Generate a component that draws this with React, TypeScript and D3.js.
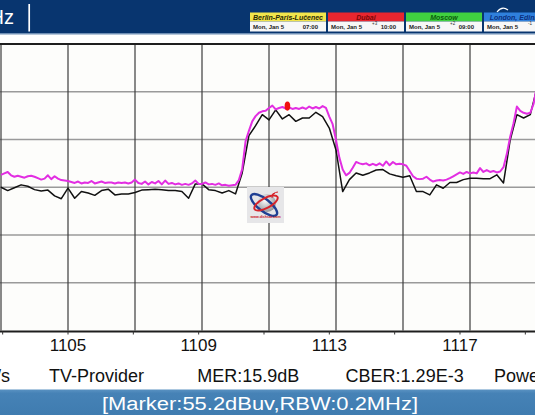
import React from 'react';
import * as d3 from 'd3';

const FREQ_START = 1103;
const FREQ_END = 1119;
const MAX_HOLD_STEP = 0.1;
const LIVE_STEP = 0.2;
const LEVEL_MIN = 10;
const LEVEL_MAX = 70;

// Max-hold trace (magenta), dBuV every 0.1 MHz from 1103 MHz
const maxHold = [
  42.6, 42.9, 43.2, 42.5, 42.2, 42.4, 42.2, 42.0, 42.3, 42.4,
  42.2, 41.9, 41.6, 41.8, 42.5, 41.7, 42.3, 41.8, 41.5, 41.4,
  41.3, 41.1, 40.9, 41.2, 40.8, 41.0, 40.9, 41.3, 40.8, 41.0,
  41.2, 40.9, 41.0, 41.0, 40.8, 41.0, 40.9, 41.0, 40.8, 41.0,
  41.6, 40.9, 40.7, 41.2, 40.6, 41.1, 40.8, 41.3, 40.6, 41.4,
  40.7, 40.9, 40.6, 40.8, 40.5, 40.7, 40.5, 40.8, 41.4, 40.7,
  40.7, 41.0, 40.6, 40.7, 40.5, 40.8, 40.4, 40.5, 40.3, 40.4,
  40.5, 41.5, 43.8, 49.6, 51.8, 53.8, 54.9, 55.6, 55.9, 56.0,
  56.6, 57.1, 56.3, 56.6, 56.8, 56.5, 56.7, 56.4, 56.6, 56.4,
  56.7, 56.4, 56.9, 56.5, 56.8, 56.5, 57.0, 56.6, 54.8, 53.2,
  49.9, 46.2, 43.7, 42.5, 43.0, 44.1, 45.3, 45.0, 44.8, 45.0,
  44.6, 44.9, 44.6, 45.0, 44.5, 45.4, 44.6, 45.3, 44.8, 44.9,
  44.8, 44.5, 43.4, 42.3, 41.8, 41.7, 41.8, 42.2, 41.6, 41.2,
  41.4, 41.5, 41.4, 41.6, 41.9, 42.3, 42.7, 43.1, 42.8, 43.2,
  42.9, 43.1, 42.9, 44.0, 43.2, 43.6, 43.2, 43.4, 43.1, 43.3,
  44.2, 47.0, 50.6, 53.4, 56.9, 56.0, 55.6, 55.4, 55.6, 57.5, 61.4,
];

// Live trace (black), dBuV every 0.2 MHz from 1103 MHz
const live = [
  40.0, 39.3, 39.9, 40.5, 40.2, 39.5, 39.2, 39.4, 38.2, 37.6,
  39.8, 37.7, 39.1, 38.8, 38.3, 39.3, 39.6, 38.4, 38.6, 38.6,
  38.9, 39.4, 39.5, 39.6, 39.5, 39.3, 39.3, 39.1, 37.7, 40.7,
  40.7, 39.5, 39.3, 38.8, 39.3, 38.6, 43.0, 50.8, 52.9, 55.2,
  54.1, 56.2, 54.3, 55.2, 53.8, 54.5, 54.5, 55.7, 54.8, 52.4,
  47.8, 39.1, 41.6, 43.0, 42.5, 43.0, 43.6, 43.7, 42.8, 42.4,
  42.1, 42.4, 39.1, 39.1, 38.4, 40.5, 39.8, 41.0, 41.0, 41.6,
  41.9, 41.9, 41.8, 41.8, 42.6, 40.9, 49.9, 55.2, 54.5, 55.2, 60.8,
];

const gridFreqs = [1103, 1105, 1107, 1109, 1111, 1113, 1115, 1117, 1119];
const tickLabels = [1105, 1109, 1113, 1117];
const levelGrid = [10, 20, 30, 40, 50, 60, 70];
const markerFreq = 1111.55;
const markerLevel = 57.0;

const clockCities = ['Berlin-Paris-Lučenec', 'Dubai', 'Moscow', 'London, Edinburgh'];
const clockDates = ['Mon, Jan 5', 'Mon, Jan 5', 'Mon, Jan 5', 'Mon, Jan 5'];
const clockTimes = ['07:00', '10:00', '09:00', '06:00'];
const clockOffsets = ['', '+3', '+2', '-1'];
const clockFills = ['#f2e54c', '#e8262f', '#40d040', '#2f80dc'];
const clockInk = ['#2b2a05', '#7c0606', '#0b5c0b', '#0b2f7e'];

const infoLabels = ['SR:27500KS/s', 'TV-Provider', 'MER:15.9dB', 'CBER:1.29E-3', 'Power:62.1dBuV'];
const statusText = '[Marker:55.2dBuv,RBW:0.2MHz]';

const W = 535;
const H = 415;
const FONT = 'Arial, "Liberation Sans", Helvetica, sans-serif';

export default function App() {
  const x = d3.scaleLinear().domain([FREQ_START, FREQ_END]).range([1, 537]);
  const y = d3.scaleLinear().domain([LEVEL_MIN, LEVEL_MAX]).range([330.5, 44]);
  const axisX = d3.scaleLinear().domain([1105, 1117]).range([68, 460]);

  const maxLine = d3
    .line<number>()
    .x((_, i) => x(FREQ_START + i * MAX_HOLD_STEP))
    .y((d) => y(d));
  const liveLine = d3
    .line<number>()
    .x((_, i) => x(FREQ_START + i * LIVE_STEP))
    .y((d) => y(d));

  const plotTop = y(LEVEL_MAX);
  const plotBottom = y(LEVEL_MIN);

  return (
    <svg
      width={W}
      height={H}
      viewBox={`0 0 ${W} ${H}`}
      style={{ position: 'absolute', left: 0, top: 0, display: 'block' }}
      fontFamily={FONT}
    >
      <defs>
        <clipPath id="plotClip">
          <rect x={0} y={plotTop} width={W} height={plotBottom - plotTop} />
        </clipPath>
        <linearGradient id="barGrad" x1="0" y1="0" x2="0" y2="1">
          <stop offset="0" stopColor="#5a92c2" />
          <stop offset="0.15" stopColor="#4682b6" />
          <stop offset="1" stopColor="#3f7cb0" />
        </linearGradient>
        <radialGradient id="globeGrad" cx="0.4" cy="0.35" r="0.7">
          <stop offset="0" stopColor="#ffffff" />
          <stop offset="1" stopColor="#8d9096" />
        </radialGradient>
      </defs>

      <rect x={0} y={0} width={W} height={H} fill="#ffffff" />

      {/* Top banner */}
      <rect x={0} y={0} width={W} height={34} fill="#08356f" />
      <rect x={0} y={33} width={W} height={1.5} fill="#6f8fb5" />
      <text x={14} y={24} fill="#ffffff" fontSize={20} textAnchor="end">
        MHz
      </text>
      <line x1={29.2} x2={29.2} y1={4} y2={31.5} stroke="#ffffff" strokeWidth={1.7} />

      {clockCities.map((city, i) => {
        const bx = 250 + i * 78;
        return (
          <g key={city}>
            <rect x={bx} y={12.5} width={76} height={9} fill={clockFills[i]} />
            <rect x={bx} y={21.5} width={76} height={10} fill="#f7f7f7" />
            <text
              x={bx + 38}
              y={19.8}
              fontSize={7}
              fontWeight="bold"
              fontStyle="italic"
              textAnchor="middle"
              fill={clockInk[i]}
            >
              {city}
            </text>
            <text x={bx + 3} y={29.3} fontSize={6} fontWeight="bold" fill="#222">
              {clockDates[i]}
            </text>
            {clockOffsets[i] && (
              <text x={bx + 44} y={25} fontSize={4.5} fill="#333">
                {clockOffsets[i]}
              </text>
            )}
            <text x={bx + 68} y={29.3} fontSize={6} fontWeight="bold" fill="#222" textAnchor="end">
              {clockTimes[i]}
            </text>
          </g>
        );
      })}
      <path d="M497,12 Q502,5.5 508,10" fill="none" stroke="#ffffff" strokeWidth={1.2} />

      {/* Plot area */}
      <rect x={0} y={plotTop} width={W} height={plotBottom - plotTop} fill="#fdfdfb" />
      {levelGrid.slice(1, -1).map((lv) => (
        <line key={lv} x1={0} x2={W} y1={y(lv)} y2={y(lv)} stroke="#9a9a9a" strokeWidth={1.6} />
      ))}
      {gridFreqs.map((f) => (
        <line key={f} x1={x(f)} x2={x(f)} y1={plotTop} y2={plotBottom} stroke="#3c3c3c" strokeWidth={1.2} />
      ))}
      <line x1={0} x2={W} y1={plotTop} y2={plotTop} stroke="#1e1e1e" strokeWidth={2} />
      <line x1={0} x2={W} y1={plotBottom + 1} y2={plotBottom + 1} stroke="#1e1e1e" strokeWidth={2} />
      {gridFreqs.map((f) => (
        <line
          key={`t${f}`}
          x1={axisX(f)}
          x2={axisX(f)}
          y1={plotBottom + 1}
          y2={plotBottom + 4}
          stroke="#333"
          strokeWidth={1}
        />
      ))}

      {/* Logo */}
      <g transform="translate(247,187)">
        <rect x={0} y={0} width={37} height={36} fill="#e6e6e8" />
        <circle cx={20} cy={16} r={9} fill="url(#globeGrad)" />
        <ellipse
          cx={17}
          cy={18}
          rx={16}
          ry={6}
          fill="none"
          stroke="#1f3f93"
          strokeWidth={2.4}
          transform="rotate(38 17 18)"
        />
        <ellipse
          cx={19}
          cy={16}
          rx={13}
          ry={5}
          fill="none"
          stroke="#d6242b"
          strokeWidth={2}
          transform="rotate(-28 19 16)"
        />
        <path d="M25,9 a3,3 0 0 1 3,-3" fill="none" stroke="#d6242b" strokeWidth={1} />
        <path d="M25,11 a6,6 0 0 1 6,-6" fill="none" stroke="#d6242b" strokeWidth={1} />
        <text x={18.5} y={31} fontSize={3.6} fill="#cc2027" textAnchor="middle" fontWeight="bold">
          www.dishsat.com
        </text>
      </g>

      <g clipPath="url(#plotClip)">
        <path d={liveLine(live) ?? ''} fill="none" stroke="#111111" strokeWidth={1.5} strokeLinejoin="round" />
        <path d={maxLine(maxHold) ?? ''} fill="none" stroke="#e22ee2" strokeWidth={2} strokeLinejoin="round" />
        <ellipse cx={x(markerFreq)} cy={y(markerLevel)} rx={2.8} ry={4.6} fill="#f01010" />
      </g>

      {/* Frequency labels */}
      {tickLabels.map((f) => (
        <text key={f} x={axisX(f)} y={350.5} fontSize={17} textAnchor="middle" fill="#111">
          {f}
        </text>
      ))}

      {/* Info row */}
      {infoLabels.map((label, i) =>
        i === 0 ? (
          <text key={label} x={10} y={382} fontSize={18} textAnchor="end" fill="#111">
            {label}
          </text>
        ) : (
          <text key={label} x={49 + (i - 1) * 148.3} y={382} fontSize={18} fill="#111">
            {label}
          </text>
        )
      )}

      {/* Status bar */}
      <rect x={0} y={389.5} width={W} height={H - 389.5} fill="url(#barGrad)" />
      <text
        x={102}
        y={410}
        fontSize={18}
        fill="#ffffff"
        textLength={316}
        lengthAdjust="spacingAndGlyphs"
      >
        {statusText}
      </text>
    </svg>
  );
}
